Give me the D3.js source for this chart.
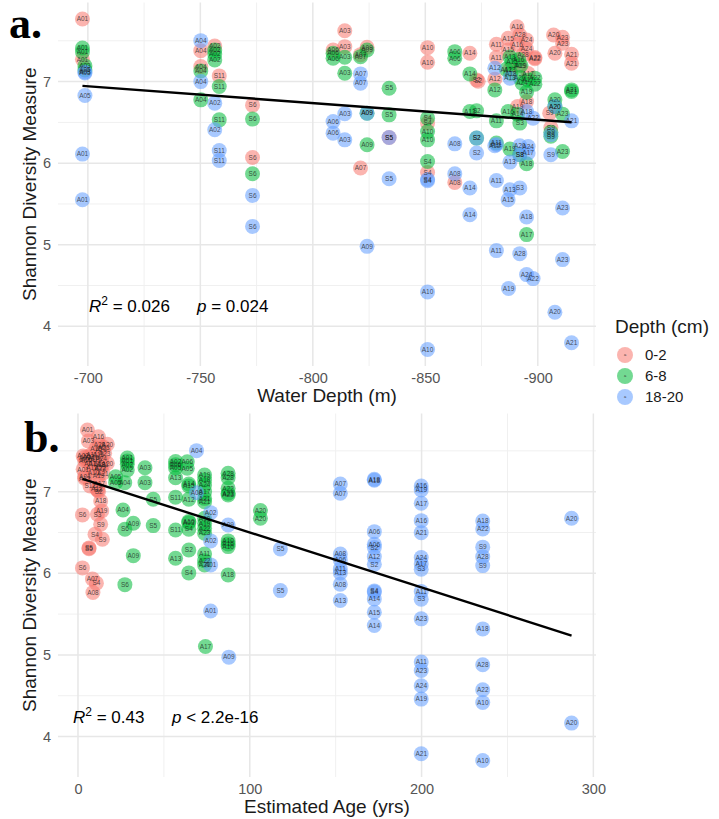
<!DOCTYPE html>
<html>
<head>
<meta charset="utf-8">
<script src="https://cdn.jsdelivr.net/npm/d3@7"></script>
<style>
  body { margin: 0; background: #fff; }
  svg text { font-family: "Liberation Sans", Arial, sans-serif; }
</style>
</head>
<body>
<svg id="chart" width="719" height="819"></svg>
<script>
// Sediment layers and their ggplot hue colours
const layerNames = ["0-2", "6-8", "18-20"];
const layerColors = ["#F8766D", "#00BA38", "#619CFF"];

const depthTicks = [-700, -750, -800, -850, -900];
const ageTicks = [0, 100, 200, 300];
const shannonTicks = [4, 5, 6, 7];

// panel a: [sample, water depth (m), Shannon]
const depthPts02 = [
  ["A01",-697.6,7.767],["A01",-697.6,7.274],
  ["A04",-750.2,7.379],["A04",-750.2,7.184],["A02",-756.4,7.437],["S11",-758.4,7.070],
  ["S6",-773.2,6.711],["S6",-773.2,6.070],
  ["A06",-809.0,7.388],["A03",-814.2,7.624],["A03",-814.2,7.428],["A09",-824.1,7.421],["A07",-821.2,7.330],["A07",-821.2,5.940],
  ["S5",-833.9,6.315],
  ["A10",-851.0,7.416],["A10",-851.0,7.237],["S4",-851.0,6.491],["S4",-851.0,5.886],
  ["A08",-863.1,5.764],["A14",-869.8,7.348],["S2",-872.8,7.021],["S2",-873.5,7.005],
  ["A11",-881.6,7.458],["A11",-881.6,7.294],["A12",-880.9,7.030],
  ["A15",-886.8,7.531],["A15",-886.8,7.388],["A13",-887.6,7.150],
  ["A16",-890.8,7.673],["A16",-890.8,7.458],["A19",-892.0,7.200],["A19",-891.0,6.694],
  ["A28",-892.0,7.572],["A28",-893.4,7.327],["A24",-895.0,7.510],["A24",-895.0,7.400],["A17",-895.7,7.100],["A18",-895.0,6.755],
  ["A22",-898.7,7.294],["A22",-898.7,7.280],
  ["S9",-905.3,6.613],["S9",-905.8,6.437],
  ["A20",-907.0,7.572],["A20",-907.6,7.348],["A23",-911.0,7.543],["A23",-911.0,7.470],
  ["A21",-915.0,7.335],["A21",-915.0,7.225]
];
const depthPts68 = [
  ["A01",-697.6,7.412],["A01",-697.6,7.364],["A03",-698.7,7.192],["A05",-698.7,7.143],
  ["A02",-756.4,7.388],["A02",-756.4,7.339],["A02",-756.4,7.266],["A04",-750.2,7.131],
  ["S11",-758.4,6.939],["A04",-750.2,6.776],["S11",-758.4,6.531],
  ["S6",-773.2,6.540],["S6",-773.2,5.870],
  ["A06",-809.0,7.348],["A06",-809.0,7.286],["A03",-814.2,7.299],["A03",-814.2,7.103],
  ["A09",-824.1,7.388],["A07",-821.2,7.306],
  ["S5",-833.9,6.919],["A09",-824.1,6.613],["S5",-833.9,6.592],["A09",-824.1,6.225],
  ["S4",-851.0,6.552],["A10",-851.0,6.388],["A10",-851.0,6.286],["S4",-851.0,6.021],
  ["A06",-863.1,7.367],["A06",-863.1,7.286],
  ["A14",-869.8,7.094],["A13",-869.8,6.633],["S2",-872.8,6.641],["S2",-872.8,6.307],
  ["A12",-880.9,6.898],["A11",-881.6,6.519],["A11",-881.6,6.246],
  ["A13",-887.6,7.300],["A15",-888.5,7.240],["A16",-891.5,7.270],["A19",-892.5,7.200],["A12",-886.0,7.150],
  ["A18",-888.0,7.100],["A20",-892.0,7.050],["A17",-895.7,7.020],["A24",-893.0,6.980],
  ["A16",-886.8,6.633],["A14",-891.0,6.600],["S3",-892.0,6.491],
  ["A22",-898.7,7.042],["A22",-898.7,6.968],["A19",-895.0,6.870],
  ["A19",-887.6,6.173],["S8",-892.0,6.103],["A18",-895.0,5.993],["A17",-895.0,5.124],
  ["A20",-907.6,6.776],["A20",-907.6,6.694],["A23",-911.0,6.601],["S9",-905.8,6.380],["S9",-905.8,6.330],["A23",-911.0,6.143],
  ["A21",-915.0,6.898],["A21",-915.0,6.880]
];
const depthPts1820 = [
  ["A03",-698.7,7.119],["A05",-698.7,7.106],["A05",-698.7,6.829],["A01",-697.6,6.111],["A01",-697.6,5.552],
  ["A04",-750.2,7.502],["A04",-750.2,7.000],["A02",-756.4,6.736],["A02",-756.4,6.409],
  ["S11",-758.4,6.155],["S11",-758.4,6.033],["S6",-773.2,5.605],["S6",-773.2,5.225],
  ["A07",-821.2,7.094],["A07",-821.2,6.980],["A03",-814.2,6.605],["A09",-824.1,6.613],
  ["A06",-809.0,6.510],["A06",-809.0,6.368],["A03",-814.2,6.286],["S5",-833.9,6.315],["S5",-833.9,5.809],["A09",-824.1,4.980],
  ["S4",-851.0,5.785],["S4",-851.0,5.800],["A10",-851.0,4.422],["A10",-851.0,3.716],
  ["A08",-863.1,6.237],["A08",-863.1,5.870],["A14",-869.8,5.695],["A14",-869.8,5.368],
  ["S2",-872.8,6.307],["S2",-872.8,6.124],
  ["A12",-880.9,7.164],["A13",-887.6,7.042],["A12",-880.9,6.213],["A11",-881.6,6.230],["A11",-881.6,5.788],["A11",-881.6,4.928],
  ["A18",-895.0,6.633],["A22",-897.9,6.552],["A21",-915.0,6.519],
  ["A20",-892.0,6.213],["A24",-895.7,6.204],["S8",-892.0,6.103],["A17",-895.7,6.124],
  ["S9",-905.8,6.350],["S9",-905.8,6.103],["A20",-907.6,6.694],
  ["A13",-887.6,6.013],["A13",-887.6,5.674],["S3",-892.0,5.695],["A15",-886.8,5.552],
  ["A23",-911.0,5.450],["A18",-895.0,5.340],["A28",-892.0,4.891],["A23",-911.0,4.818],
  ["A24",-895.0,4.634],["A22",-897.9,4.585],["A19",-887.0,4.463],["A20",-907.6,4.173],["A21",-915.0,3.798]
];

// panel b: [sample, estimated age (yrs), Shannon]
const agePts02 = [
  ["A01",5.5,7.755],["A16",11.9,7.673],["A03",6.0,7.620],["A20",17.1,7.580],
  ["A28",12.5,7.572],["A15",10.5,7.531],["A23",15.0,7.543],["A24",13.5,7.510],
  ["A16",11.9,7.458],["A11",8.0,7.458],["A23",15.5,7.470],["A02",3.0,7.437],["A03",6.0,7.428],["A09",4.0,7.421],["A10",9.0,7.416],
  ["A24",13.5,7.400],["A15",10.5,7.388],["A06",5.0,7.388],["A04",4.0,7.379],["A14",9.5,7.348],["A20",17.1,7.348],["A21",14.5,7.335],["A28",12.5,7.327],["A07",7.0,7.339],
  ["A11",8.0,7.294],["A22",13.0,7.294],["A22",13.0,7.280],["A01",3.0,7.274],["A10",9.0,7.237],["A21",14.5,7.225],["A19",12.0,7.200],["A04",4.0,7.184],
  ["A13",3.9,7.164],["A17",12.5,7.100],["S11",7.0,7.070],["A12",11.0,7.030],["S2",11.5,7.021],["S2",12.0,7.005],
  ["A18",13.2,6.886],["A19",13.8,6.764],["S6",2.6,6.715],["S3",11.3,6.723],["S9",13.2,6.601],["S4",9.9,6.478],["S9",14.2,6.417],
  ["S5",6.4,6.311],["S5",6.4,6.300],["S6",2.6,6.066],["A07",8.4,5.931],["S4",10.7,5.879],["A08",8.7,5.764]
];
const agePts68 = [
  ["A01",28.7,7.412],["A01",28.7,7.376],["A02",28.7,7.335],["A02",28.7,7.265],["A03",39.0,7.293],
  ["A05",21.9,7.183],["A05",21.9,7.110],["A04",27.2,7.110],["A03",39.0,7.110],
  ["S5",43.8,6.907],["A04",26.2,6.776],["A09",32.2,6.613],["S6",27.3,6.540],["S5",43.8,6.584],["A09",32.2,6.216],["S6",27.3,5.861],
  ["A06",63.6,7.367],["A02",56.8,7.370],["A06",56.8,7.330],["A05",56.8,7.290],["A05",63.6,7.286],["A13",56.8,7.171],["A14",64.5,7.094],["A15",64.5,7.070],
  ["S11",56.8,6.931],["A12",64.5,6.907],["A10",64.5,6.633],["A03",64.5,6.620],["S4",64.5,6.540],["S11",56.8,6.531],["S2",64.5,6.286],["A13",56.8,6.184],["S4",64.5,6.005],
  ["A19",73.7,7.204],["A18",73.7,7.144],["A24",73.7,7.082],["A17",73.7,7.000],["A21",73.7,6.918],["A21",73.7,6.877],
  ["A10",73.7,6.674],["A19",73.7,6.613],["A22",73.7,6.552],["A23",73.7,6.491],["A11",73.7,6.237],["A22",73.7,6.155],["A21",73.7,6.103],
  ["A28",87.4,7.225],["A28",87.4,7.171],["A22",87.4,7.042],["A23",87.4,6.980],["A23",87.4,6.960],
  ["A10",87.4,6.397],["A16",87.4,6.360],["A10",87.4,6.327],["A18",87.4,5.980],
  ["A20",106.2,6.768],["A20",106.2,6.674],["A17",74.2,5.103]
];
const agePts1820 = [
  ["A04",69.0,7.502],["A08",69.0,6.988],["A02",77.2,6.743],["A09",87.4,6.592],["A02",77.2,6.397],["A01",77.2,6.103],["A01",77.2,5.538],
  ["S5",117.8,6.298],["S5",117.8,5.788],["A09",87.8,4.973],
  ["A07",152.7,7.094],["A07",152.7,6.980],["A08",152.7,6.237],["A06",152.7,6.164],["A11",152.7,6.054],["A13",152.7,6.005],["A08",152.7,5.866],["A13",152.7,5.666],
  ["A18",172.5,7.151],["A18",172.5,7.140],["A06",172.5,6.510],["A06",172.5,6.356],["S2",172.5,6.315],["A12",172.5,6.204],["S2",172.5,6.111],
  ["S4",172.5,5.784],["S4",172.5,5.770],["A14",172.5,5.686],["A15",172.5,5.523],["A14",172.5,5.360],
  ["A16",199.8,7.070],["A19",199.8,7.021],["A17",199.8,6.858],["A16",199.8,6.645],["A21",199.8,6.498],["A24",199.8,6.192],["A17",199.8,6.115],["S3",199.8,6.050],
  ["A11",199.8,5.776],["S3",199.8,5.683],["A23",199.8,5.442],["A11",199.8,4.912],["A23",199.8,4.809],["A24",199.8,4.622],["A19",199.8,4.459],["A21",199.8,3.789],
  ["A18",235.6,6.641],["A22",235.6,6.543],["S9",235.6,6.320],["A28",235.6,6.204],["S9",235.6,6.094],["A18",235.6,5.319],["A28",235.6,4.879],["A22",235.6,4.573],["A10",235.6,4.417],["A10",235.6,3.707],
  ["A20",287.3,6.674],["A20",287.3,4.165]
];

// linear fits (endpoints)
const fitDepthX = [-697.6, -915.0];
const fitDepthY = [6.947, 6.501];
const fitAgeX = [2.6, 287.3];
const fitAgeY = [7.157, 5.237];

const svg = d3.select("#chart");

function drawPanel(cfg) {
  const g = svg.append("g");
  const box = cfg.box;
  const all = cfg.sets.flat();

  // ggplot-like 5% expansion of the data range
  const expand = e => { const p = (e[1] - e[0]) * 0.05; return [e[0] - p, e[1] + p]; };
  let xd = expand(d3.extent(all.map(d => d[1]).concat(cfg.fitX)));
  if (cfg.reverse) xd = xd.reverse();
  const yd = expand(d3.extent(all.map(d => d[2]).concat(cfg.fitY)));

  const x = d3.scaleLinear().domain(xd).range([box.left, box.right]);
  const y = d3.scaleLinear().domain(yd).range([box.bottom, box.top]);

  const minors = (ticks, dom) => {
    const step = ticks[1] - ticks[0];
    const lo = Math.min(...dom), hi = Math.max(...dom);
    const out = [];
    for (let i = -1; i < ticks.length; i++) {
      const v = ticks[0] + step * (i + 0.5);
      if (v >= lo && v <= hi) out.push(v);
    }
    return out;
  };

  // grid
  g.selectAll(".gx-minor").data(minors(cfg.xTicks, xd)).enter().append("line")
    .attr("x1", d => x(d)).attr("x2", d => x(d)).attr("y1", box.top).attr("y2", box.bottom)
    .attr("stroke", "#f0f0f0").attr("stroke-width", 1);
  g.selectAll(".gy-minor").data(minors(shannonTicks, yd)).enter().append("line")
    .attr("y1", d => y(d)).attr("y2", d => y(d)).attr("x1", box.left).attr("x2", box.right)
    .attr("stroke", "#f0f0f0").attr("stroke-width", 1);
  g.selectAll(".gx").data(cfg.xTicks).enter().append("line")
    .attr("x1", d => x(d)).attr("x2", d => x(d)).attr("y1", box.top).attr("y2", box.bottom)
    .attr("stroke", "#e7e7e7").attr("stroke-width", 1.5);
  g.selectAll(".gy").data(shannonTicks).enter().append("line")
    .attr("y1", d => y(d)).attr("y2", d => y(d)).attr("x1", box.left).attr("x2", box.right)
    .attr("stroke", "#e7e7e7").attr("stroke-width", 1.5);

  // axes (labels only, theme_minimal style); plain hyphen for negatives
  const fmt = d => String(d);
  const xa = g.append("g").attr("transform", `translate(0,${box.bottom})`)
    .call(d3.axisBottom(x).tickValues(cfg.xTicks).tickFormat(fmt).tickSize(0).tickPadding(7));
  const ya = g.append("g").attr("transform", `translate(${box.left},0)`)
    .call(d3.axisLeft(y).tickValues(shannonTicks).tickFormat(fmt).tickSize(0).tickPadding(7));
  [xa, ya].forEach(a => {
    a.select(".domain").remove();
    a.selectAll("text").attr("fill", "#555").style("font-size", "14.5px")
      .style("font-family", '"Liberation Sans", Arial, sans-serif');
  });

  // points, then labels
  const pts = [];
  cfg.sets.forEach((s, i) => s.forEach(d => pts.push({ lab: d[0], x: d[1], y: d[2], k: i })));
  g.selectAll(".pt").data(pts).enter().append("circle")
    .attr("cx", d => x(d.x)).attr("cy", d => y(d.y)).attr("r", 7.5)
    .attr("fill", d => layerColors[d.k]).attr("fill-opacity", 0.55);
  g.selectAll(".lab").data(pts).enter().append("text")
    .attr("x", d => x(d.x)).attr("y", d => y(d.y)).attr("dy", "0.35em")
    .attr("text-anchor", "middle").style("font-size", "6.5px")
    .attr("fill", "#1a1a1a").attr("fill-opacity", 0.75).text(d => d.lab);

  // regression line
  const line = d3.line().x(d => x(d[0])).y(d => y(d[1]));
  g.append("path").datum(cfg.fitX.map((v, i) => [v, cfg.fitY[i]]))
    .attr("d", line).attr("fill", "none").attr("stroke", "#000").attr("stroke-width", 2.4);

  // stats annotation
  const st = g.append("text").attr("x", cfg.statX).attr("y", cfg.statY)
    .attr("fill", "#000").style("font-size", "17px");
  st.append("tspan").attr("font-style", "italic").text("R");
  st.append("tspan").attr("dy", -7).style("font-size", "12px").text("2");
  st.append("tspan").attr("dy", 7).text(" = " + cfg.r2);
  const sp = g.append("text").attr("x", cfg.pX).attr("y", cfg.statY)
    .attr("fill", "#000").style("font-size", "17px");
  sp.append("tspan").attr("font-style", "italic").text("p");
  sp.append("tspan").text(" " + cfg.p);

  // axis titles
  g.append("text").attr("x", (box.left + box.right) / 2).attr("y", cfg.xTitleY)
    .attr("text-anchor", "middle").attr("fill", "#1a1a1a").style("font-size", "19px").text(cfg.xTitle);
  g.append("text").attr("transform", `translate(36,${(box.top + box.bottom) / 2}) rotate(-90)`)
    .attr("text-anchor", "middle").attr("fill", "#1a1a1a").style("font-size", "19px")
    .text("Shannon Diversity Measure");

  // panel tag
  g.append("text").attr("x", cfg.tagX).attr("y", cfg.tagY)
    .style("font-family", '"Liberation Serif", "DejaVu Serif", serif')
    .style("font-weight", "bold").style("font-size", "44px").attr("fill", "#000").text(cfg.tag);
}

drawPanel({
  sets: [depthPts02, depthPts68, depthPts1820],
  fitX: fitDepthX, fitY: fitDepthY, reverse: true,
  box: { left: 58, right: 596, top: 2.5, bottom: 366 },
  xTicks: depthTicks, xTitle: "Water Depth (m)", xTitleY: 402,
  r2: "0.026", p: "= 0.024", statX: 89, pX: 197, statY: 312,
  tag: "a.", tagX: 9, tagY: 38
});

drawPanel({
  sets: [agePts02, agePts68, agePts1820],
  fitX: fitAgeX, fitY: fitAgeY, reverse: false,
  box: { left: 58, right: 596, top: 413.5, bottom: 777 },
  xTicks: ageTicks, xTitle: "Estimated Age (yrs)", xTitleY: 813,
  r2: "0.43", p: "< 2.2e-16", statX: 73, pX: 172, statY: 723,
  tag: "b.", tagX: 24, tagY: 452
});

// legend
const leg = svg.append("g");
leg.append("text").attr("x", 615).attr("y", 333).attr("fill", "#1a1a1a")
  .style("font-size", "19px").text("Depth (cm)");
const items = leg.selectAll(".item").data(layerNames).enter().append("g")
  .attr("transform", (d, i) => `translate(625,${355 + i * 21})`);
items.append("circle").attr("r", 8).attr("fill", (d, i) => layerColors[i]).attr("fill-opacity", 0.55);
items.append("text").attr("text-anchor", "middle").attr("dy", "0.35em")
  .style("font-size", "4px").attr("fill", "#333").text("a");
items.append("text").attr("x", 20).attr("dy", "0.35em").attr("fill", "#1a1a1a")
  .style("font-size", "15px").text(d => d);
</script>
</body>
</html>
